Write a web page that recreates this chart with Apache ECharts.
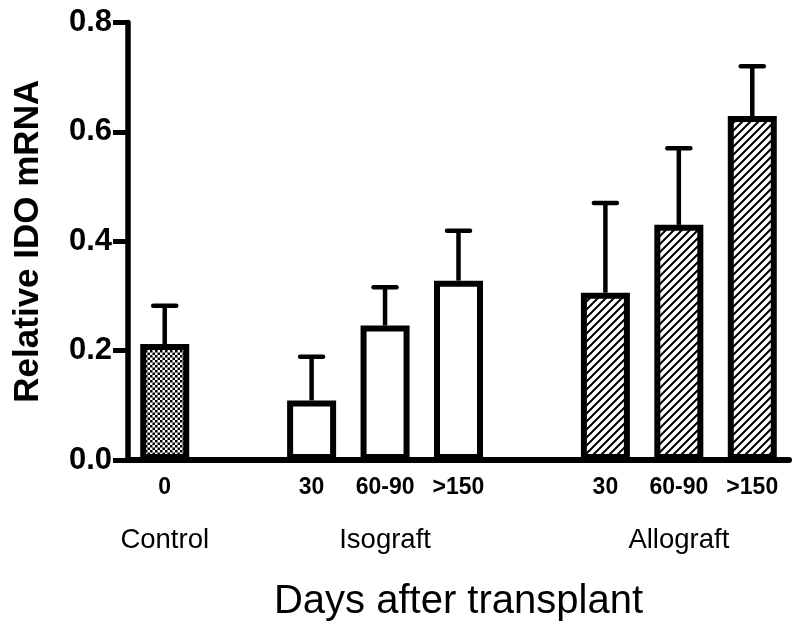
<!DOCTYPE html>
<html><head><meta charset="utf-8">
<script src="https://cdn.jsdelivr.net/npm/echarts@6/dist/echarts.min.js"></script>
<style>html,body{margin:0;padding:0;background:#fff}#c{width:800px;height:636px}</style>
</head><body><div id="c"></div>
<script>
// ---- data ----
const categories = ['0', '', '30', '60-90', '>150', '', '30', '60-90', '>150'];
const groupLabels = ['Control', '', '', 'Isograft', '', '', '', 'Allograft', ''];
const groupOf = ['control', null, 'iso', 'iso', 'iso', null, 'allo', 'allo', 'allo'];
const means = [0.212, null, 0.109, 0.246, 0.328, null, 0.306, 0.430, 0.629];
const errTops = [0.282, null, 0.189, 0.316, 0.419, null, 0.470, 0.570, 0.720];
const yTicks = [0.0, 0.2, 0.4, 0.6, 0.8];
const xTitle = 'Days after transplant';
const yTitle = 'Relative IDO mRNA';

// ---- fills ----
function checker() {
  const s = 10, cell = 2.5;
  const c = document.createElement('canvas'); c.width = c.height = s;
  const g = c.getContext('2d');
  g.fillStyle = '#fff'; g.fillRect(0, 0, s, s);
  g.fillStyle = '#000';
  for (let i = 0; i < 4; i++) for (let j = 0; j < 4; j++) if ((i + j) % 2 === 0) g.fillRect(i * cell, j * cell, cell, cell);
  return c;
}
function hatch() {
  const s = 8;
  const c = document.createElement('canvas'); c.width = c.height = s;
  const g = c.getContext('2d');
  g.fillStyle = '#fff'; g.fillRect(0, 0, s, s);
  g.strokeStyle = '#000'; g.lineWidth = 2;
  g.beginPath();
  g.moveTo(-1, s + 1); g.lineTo(s + 1, -1);
  g.moveTo(-s / 2 - 1, s / 2 + 1); g.lineTo(s / 2 + 1, -s / 2 - 1);
  g.moveTo(s / 2 - 1, s * 1.5 + 1); g.lineTo(s * 1.5 + 1, s / 2 - 1);
  g.stroke();
  return c;
}
const fills = {
  control: { image: checker(), repeat: 'repeat' },
  iso: '#fff',
  allo: { image: hatch(), repeat: 'repeat' }
};

const barData = means.map((v, i) => v == null ? null : { value: v, itemStyle: { color: fills[groupOf[i]] } });
const errData = [];
means.forEach((v, i) => { if (v != null) errData.push([i, v, errTops[i]]); });

const FONT = '"Liberation Sans", Arial, sans-serif';
const gridBox = { left: 128, right: 11, top: 22.5, bottom: 176 };

const chart = echarts.init(document.getElementById('c'), null, { renderer: 'canvas' });
chart.setOption({
  animation: false,
  backgroundColor: '#fff',
  textStyle: { fontFamily: FONT, color: '#000' },
  grid: [Object.assign({}, gridBox), Object.assign({}, gridBox)],
  xAxis: [{
    gridIndex: 0, type: 'category', data: categories, position: 'bottom',
    axisLine: { show: true, lineStyle: { color: '#000', width: 6 } },
    axisTick: { show: false },
    axisLabel: { interval: 0, fontSize: 23, fontWeight: 'bold', color: '#000', margin: 16, fontFamily: FONT },
    splitLine: { show: false },
    name: xTitle, nameLocation: 'middle', nameGap: 122,
    nameTextStyle: { fontSize: 40, color: '#000', fontFamily: FONT }
  }, {
    gridIndex: 1, type: 'category', data: groupLabels, position: 'bottom',
    axisLine: { show: false }, axisTick: { show: false }, splitLine: { show: false },
    axisLabel: { interval: 0, fontSize: 27.5, color: '#000', margin: 66, fontFamily: FONT }
  }],
  yAxis: [{
    gridIndex: 0, type: 'value',
    min: yTicks[0], max: yTicks[yTicks.length - 1], interval: yTicks[1] - yTicks[0],
    axisLine: { show: true, lineStyle: { color: '#000', width: 5.5 } },
    axisTick: { show: true, length: 15, lineStyle: { color: '#000', width: 5 } },
    splitLine: { show: false },
    axisLabel: { fontSize: 31, fontWeight: 'bold', color: '#000', margin: 16, fontFamily: FONT,
      formatter: v => v.toFixed(1) },
    name: yTitle, nameLocation: 'middle', nameGap: 82,
    nameTextStyle: { fontSize: 35, fontWeight: 'bold', color: '#000', fontFamily: FONT }
  }, {
    gridIndex: 1, type: 'value', min: yTicks[0], max: yTicks[yTicks.length - 1], show: false
  }],
  series: [{
    type: 'custom', xAxisIndex: 0, yAxisIndex: 0, z: 1,
    data: errData,
    encode: { x: 0, y: [1, 2] },
    renderItem: function (params, api) {
      const base = api.coord([api.value(0), api.value(1)]);
      const top = api.coord([api.value(0), api.value(2)]);
      const hw = 11.5;
      return { type: 'group', children: [
        { type: 'line', shape: { x1: base[0], y1: base[1], x2: top[0], y2: top[1] },
          style: { stroke: '#000', lineWidth: 4.5 } },
        { type: 'line', shape: { x1: top[0] - hw, y1: top[1], x2: top[0] + hw, y2: top[1] },
          style: { stroke: '#000', lineWidth: 4.5, lineCap: 'round' } }
      ] };
    }
  }, {
    type: 'bar', xAxisIndex: 0, yAxisIndex: 0, z: 2,
    data: barData, barWidth: 49,
    itemStyle: { borderColor: '#000', borderWidth: 6 }
  }]
});
</script>
</body></html>
